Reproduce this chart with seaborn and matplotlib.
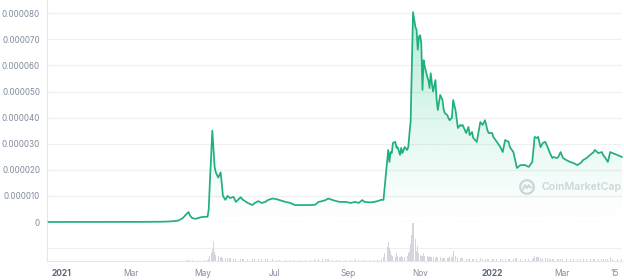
import numpy as np
import pandas as pd
import matplotlib
matplotlib.use("Agg")
import matplotlib.pyplot as plt
import matplotlib.dates as mdates
from matplotlib.patches import Circle
from matplotlib.lines import Line2D
import seaborn as sns

# ---------------- data ----------------
price_dates = [
    "2020-12-21", "2021-01-01", "2021-01-17", "2021-02-03", "2021-02-20", "2021-03-09",
    "2021-03-26", "2021-04-03", "2021-04-10", "2021-04-14", "2021-04-17", "2021-04-19",
    "2021-04-20", "2021-04-22", "2021-04-25", "2021-04-29", "2021-05-02", "2021-05-05",
    "2021-05-06", "2021-05-07", "2021-05-08", "2021-05-09", "2021-05-10", "2021-05-11",
    "2021-05-12", "2021-05-14", "2021-05-16", "2021-05-17", "2021-05-18", "2021-05-20",
    "2021-05-22", "2021-05-24", "2021-05-27", "2021-05-29", "2021-06-02", "2021-06-04",
    "2021-06-08", "2021-06-12", "2021-06-14", "2021-06-17", "2021-06-20", "2021-06-23",
    "2021-06-25", "2021-06-29", "2021-07-02", "2021-07-05", "2021-07-10", "2021-07-14",
    "2021-07-18", "2021-07-22", "2021-07-27", "2021-07-31", "2021-08-04", "2021-08-07",
    "2021-08-10", "2021-08-13", "2021-08-15", "2021-08-19", "2021-08-22", "2021-08-25",
    "2021-08-30", "2021-09-03", "2021-09-07", "2021-09-10", "2021-09-13", "2021-09-15",
    "2021-09-20", "2021-09-23", "2021-09-26", "2021-09-29", "2021-10-01", "2021-10-02",
    "2021-10-04", "2021-10-05", "2021-10-06", "2021-10-07", "2021-10-08", "2021-10-09",
    "2021-10-11", "2021-10-12", "2021-10-13", "2021-10-15", "2021-10-16", "2021-10-17",
    "2021-10-19", "2021-10-21", "2021-10-22", "2021-10-23", "2021-10-24", "2021-10-25",
    "2021-10-26", "2021-10-28", "2021-10-29", "2021-10-30", "2021-10-31", "2021-11-01",
    "2021-11-02", "2021-11-03", "2021-11-04", "2021-11-05", "2021-11-07", "2021-11-08",
    "2021-11-09", "2021-11-10", "2021-11-11", "2021-11-12", "2021-11-14", "2021-11-15",
    "2021-11-16", "2021-11-18", "2021-11-20", "2021-11-21", "2021-11-22", "2021-11-24",
    "2021-11-25", "2021-11-26", "2021-11-28", "2021-11-29", "2021-12-01", "2021-12-03",
    "2021-12-05", "2021-12-06", "2021-12-07", "2021-12-10", "2021-12-12", "2021-12-13",
    "2021-12-15", "2021-12-16", "2021-12-19", "2021-12-22", "2021-12-24", "2021-12-26",
    "2021-12-28", "2021-12-29", "2022-01-01", "2022-01-02", "2022-01-05", "2022-01-08",
    "2022-01-10", "2022-01-12", "2022-01-15", "2022-01-16", "2022-01-19", "2022-01-21",
    "2022-01-22", "2022-01-25", "2022-01-29", "2022-02-01", "2022-02-04", "2022-02-05",
    "2022-02-06", "2022-02-08", "2022-02-09", "2022-02-11", "2022-02-13", "2022-02-15",
    "2022-02-17", "2022-02-19", "2022-02-21", "2022-02-22", "2022-02-25", "2022-02-26",
    "2022-02-28", "2022-03-02", "2022-03-05", "2022-03-08", "2022-03-11", "2022-03-14",
    "2022-03-17", "2022-03-19", "2022-03-22", "2022-03-25", "2022-03-28", "2022-03-29",
    "2022-04-01", "2022-04-04", "2022-04-05", "2022-04-07", "2022-04-09", "2022-04-11",
    "2022-04-13", "2022-04-17", "2022-04-21",
]

# price in units of 0.00001 USD
price_1e5 = [
    0.001, 0.001, 0.001, 0.002, 0.003, 0.005,
    0.01, 0.02, 0.05, 0.15, 0.30, 0.38,
    0.25, 0.15, 0.12, 0.18, 0.20, 0.20,
    0.50, 1.60, 2.50, 3.50, 2.80, 2.10,
    1.90, 1.70, 1.90, 1.50, 1.00, 0.85,
    1.00, 0.92, 0.96, 0.77, 0.95, 0.85,
    0.73, 0.65, 0.73, 0.80, 0.73, 0.77,
    0.84, 0.90, 0.88, 0.84, 0.77, 0.73,
    0.65, 0.65, 0.65, 0.65, 0.66, 0.77,
    0.80, 0.84, 0.90, 0.84, 0.80, 0.77,
    0.77, 0.73, 0.77, 0.73, 0.84, 0.77,
    0.75, 0.77, 0.80, 0.85, 0.85, 1.34,
    2.26, 2.76, 2.30, 2.68, 2.64, 3.03,
    3.07, 2.84, 2.87, 2.57, 2.84, 2.64,
    2.87, 2.76, 2.87, 3.41, 3.87, 6.00,
    8.04, 7.48, 7.36, 6.60, 7.10, 7.16,
    6.85, 5.06, 6.20, 5.95, 5.57, 5.44,
    5.13, 5.70, 5.30, 5.00, 5.44, 4.67,
    4.29, 4.87, 4.67, 4.29, 4.17, 4.10,
    3.98, 3.90, 4.00, 4.67, 4.29, 3.60,
    3.72, 3.68, 3.72, 3.41, 3.64, 3.33,
    3.45, 3.22, 3.07, 3.83, 3.72, 3.90,
    3.52, 3.41, 3.41, 3.26, 3.07, 2.87,
    2.68, 3.14, 3.07, 2.87, 2.68, 2.26,
    2.07, 2.18, 2.18, 2.11, 2.30, 2.76,
    3.26, 3.22, 3.26, 2.87, 3.03, 3.07,
    2.87, 2.64, 2.45, 2.49, 2.45, 2.49,
    2.68, 2.45, 2.37, 2.30, 2.26, 2.18,
    2.26, 2.37, 2.45, 2.57, 2.68, 2.76,
    2.64, 2.68, 2.57, 2.45, 2.30, 2.68,
    2.64, 2.57, 2.49,
]

# trading volume, relative units (grid line of the volume pane = 10)
volume = [
    0, 0, 0, 0, 0, 0,
    0, 0.1, 0.2, 0.3, 0.8, 1.0,
    0.6, 0.4, 0.3, 0.3, 0.4, 0.4,
    1.5, 4, 6, 9, 15.4, 7,
    5, 4, 3, 3, 2.5, 2.5,
    2, 2, 1.8, 1.5, 1.5, 1.3,
    1.3, 1.2, 1.2, 1.2, 1.2, 1.2,
    1.2, 1.2, 1.1, 1.1, 1.1, 1.1,
    1.0, 1.0, 1.0, 1.0, 1.0, 1.3,
    1.3, 1.2, 1.3, 1.1, 1.1, 1.0,
    1.0, 1.0, 1.2, 1.0, 1.1, 1.0,
    1.0, 1.0, 1.0, 1.5, 3, 6,
    11, 14.6, 10, 8, 5, 4,
    3, 6, 4, 3, 3.5, 3,
    3, 4, 6, 8, 13, 20,
    29, 17, 8, 11.5, 6, 5,
    4, 4, 6, 4, 3.5, 3,
    3.5, 3, 3, 3, 2.5, 3,
    3, 3, 2.5, 2.5, 2.5, 2.5,
    2.5, 3, 3, 7.7, 4, 3,
    2, 2, 2, 1.8, 1.8, 1.8,
    1.6, 1.6, 1.6, 2, 1.8, 1.6,
    1.6, 1.6, 1.5, 1.5, 1.6, 1.5,
    1.5, 1.6, 1.5, 1.5, 1.5, 2.2,
    2.2, 1.6, 1.4, 1.5, 1.6, 2.5,
    3.5, 3, 2.8, 2.5, 2.2, 2.2,
    2, 1.8, 1.8, 1.6, 1.6, 1.5,
    1.8, 1.6, 1.4, 1.4, 1.4, 1.4,
    1.4, 1.5, 1.6, 1.8, 1.8, 1.8,
    1.6, 1.6, 1.6, 1.5, 1.6, 3,
    1.8, 1.5, 1.5,
]

x_tick_dates = ["2021-01-01", "2021-03-01", "2021-05-01", "2021-07-01", "2021-09-01",
                "2021-11-01", "2022-01-01", "2022-03-01", "2022-04-15"]
x_tick_labels = ["2021", "Mar", "May", "Jul", "Sep", "Nov", "2022", "Mar", "15"]
y_ticks = [0, 0.00001, 0.00002, 0.00003, 0.00004, 0.00005, 0.00006, 0.00007, 0.00008]
y_tick_labels = ["0", "0.000010", "0.000020", "0.000030", "0.000040",
                 "0.000050", "0.000060", "0.000070", "0.000080"]
x_range = ["2020-12-20", "2022-04-21"]

# ---------------- style ----------------
sns.set_theme(style="white")
plt.rcParams["font.family"] = ["Inter", "DejaVu Sans"]

LINE = "#1fb07c"
GRID = "#eef0f3"
SPINE = "#e3e6ea"

df = pd.DataFrame({"date": pd.to_datetime(price_dates),
                   "price": np.array(price_1e5) * 1e-5,
                   "volume": volume})

fig = plt.figure(figsize=(6.24, 2.80), dpi=100)
ax = fig.add_axes([47 / 624, 58 / 280, 575 / 624, 222 / 280])
vax = fig.add_axes([47 / 624, 19 / 280, 575 / 624, 39 / 280])

xlim = mdates.date2num(pd.to_datetime(x_range))
ymax = 8.506e-5

# gradient fill under the line
poly = ax.fill_between(df["date"], df["price"], 0, facecolor="none", edgecolor="none")
grad = np.linspace(0, 1, 256)[:, None]
rgba = np.zeros((256, 1, 4))
rgba[..., :3] = matplotlib.colors.to_rgb("#16c784")
rgba[..., 3] = 0.34 * grad ** 1.15
img = ax.imshow(rgba, extent=[xlim[0], xlim[1], 0, ymax], origin="lower",
                aspect="auto", interpolation="bicubic", zorder=1)
img.set_clip_path(poly.get_paths()[0], transform=ax.transData)

# zero dotted line
ax.axhline(0, color="#c9ced6", lw=0.9, linestyle=(0, (1, 2)), zorder=1.5)

sns.lineplot(data=df, x="date", y="price", ax=ax, color=LINE, linewidth=1.25,
             zorder=3, clip_on=False)

ax.set_xlim(xlim)
ax.set_ylim(0, ymax)
ax.set_yticks(y_ticks)
ax.set_yticklabels(y_tick_labels)
ax.tick_params(axis="y", length=0, pad=5, labelsize=5.8, labelcolor="#7f899b")
ax.tick_params(axis="x", length=0, labelbottom=False)
ax.yaxis.grid(True, color=GRID, lw=0.9)
ax.get_ygridlines()[0].set_visible(False)
ax.set_axisbelow(True)
ax.set_xlabel("")
ax.set_ylabel("")
for s in ["top", "right", "bottom"]:
    ax.spines[s].set_visible(False)
ax.spines["left"].set_color(SPINE)
ax.spines["left"].set_linewidth(0.8)
ax.patch.set_alpha(0)

# volume pane
vax.bar(df["date"], df["volume"], width=0.9, color="#d3d7dd", edgecolor="none")
vax.set_xlim(xlim)
vax.set_ylim(0, 30)
vax.set_yticks([10])
vax.set_yticklabels([])
vax.tick_params(axis="y", length=0)
vax.yaxis.grid(True, color=GRID, lw=0.9)
vax.set_axisbelow(True)
for s in ["top", "right"]:
    vax.spines[s].set_visible(False)
for s in ["left", "bottom"]:
    vax.spines[s].set_color(SPINE)
    vax.spines[s].set_linewidth(0.8)
vax.set_xticks(mdates.date2num(pd.to_datetime(x_tick_dates)))
vax.set_xticklabels(x_tick_labels)
vax.tick_params(axis="x", length=2.5, width=0.6, color="#b8bec8", pad=3.5,
                labelsize=6.0, labelcolor="#808a9d")
for lab in vax.get_xticklabels():
    if lab.get_text() in ("2021", "2022"):
        lab.set_fontweight("bold")
        lab.set_color("#58667e")
vax.patch.set_alpha(0)

# watermark (logo ring with a small "M" stroke, then the name)
wm = "#cfd4db"
cx, cy = 5.27, 0.93
fig.add_artist(Circle((cx, cy), 0.068, transform=fig.dpi_scale_trans,
                      facecolor="none", edgecolor=wm, lw=1.6))
fig.add_artist(Line2D([cx - 0.04, cx - 0.022, cx - 0.002, cx + 0.018, cx + 0.03, cx + 0.045],
                      [cy - 0.025, cy + 0.02, cy - 0.012, cy + 0.02, cy - 0.005, cy - 0.002],
                      transform=fig.dpi_scale_trans, color=wm, lw=1.3,
                      solid_capstyle="round", solid_joinstyle="round"))
fig.text(541 / 624, 93 / 280, "CoinMarketCap", color=wm, fontsize=7.6,
         fontweight="semibold", ha="left", va="center")

fig.savefig("out.png", dpi=100)
